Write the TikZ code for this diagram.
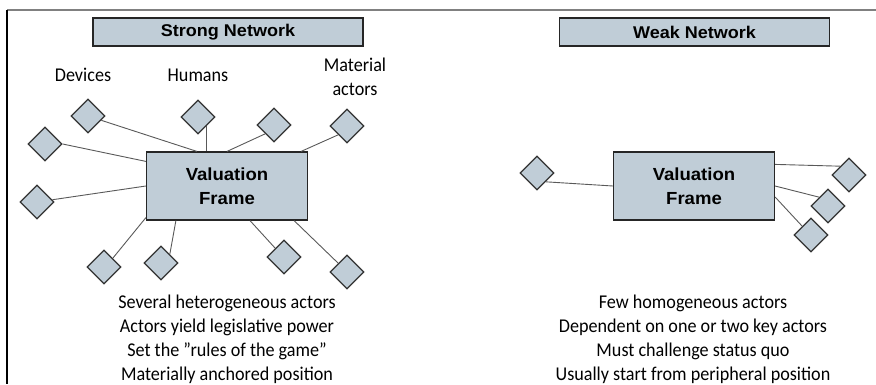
\documentclass[tikz,border=0pt]{standalone}
\usepackage{fontspec}
\setmainfont{Carlito}[FakeStretch=0.93]
\newfontfamily\headfont{Liberation Sans}[FakeStretch=1.06]
\usepackage{tikz}
\usetikzlibrary{shapes.geometric}
\usetikzlibrary{positioning}
\definecolor{boxfill}{RGB}{192,205,215}
\definecolor{edgegray}{RGB}{89,89,89}

\begin{document}
\begin{tikzpicture}[x=1pt, y=-1pt,
    titlebox/.style={draw=black!85, line width=1.2pt, fill=boxfill, minimum width=270pt, minimum height=28pt, inner sep=0pt, font=\headfont\bfseries\fontsize{17}{20}\selectfont},
    framebox/.style={draw=black!85, line width=1.2pt, fill=boxfill, minimum width=161pt, minimum height=68pt, align=center, inner sep=0pt, font=\headfont\bfseries\fontsize{17.5}{24}\selectfont},
    actor/.style={diamond, draw=black!80, line width=1.3pt, fill=boxfill, minimum width=34pt, minimum height=34pt, inner sep=0pt},
    link/.style={draw=edgegray, line width=0.9pt},
    lbl/.style={align=center, font=\fontsize{19.5}{24.3}\selectfont},
    notes/.style={align=center, font=\fontsize{19.5}{24}\selectfont}]
    \useasboundingbox (0,0) rectangle (876,384);
    \draw[black!50, line width=1.5pt] (7,10) -- (876,10);
    \draw[black, line width=1.5pt] (7,10) -- (7,384);

    % strong network
    \node[titlebox] (strong) at (228,32) {Strong Network};
    \node[framebox] (vf) at (227,186) {Valuation\\Frame};
    \foreach \n/\x/\y in {d1/88/116, d2/45/144, d3/37/202, d4/198/117, d5/274/125,
                          d6/347/126, d7/104/267, d8/161/263, d9/284/257, d10/347/272}
      {
        \node[actor] (\n) at (\x,\y) {};
      }
    \draw[link] (d1) -- ([xshift=51]vf.north west);
    \draw[link] (d2.east) -- ([yshift=-10]vf.north west);
    \draw[link] (d3) -- (vf.west);
    \draw[link] (d4.-45) -- (d4.-45 |- vf.north);
    \draw[link] (d5.225) -- (vf.north);
    \draw[link] (d6.225) -- ([xshift=-7]vf.north east);
    \draw[link] (d7.45) -- ([yshift=3]vf.south west);
    \draw[link] (d8.45) -- ([xshift=30]vf.south west);
    \draw[link] (d9.135) -- ([xshift=23]vf.south);
    \draw[link] (d10.135) -- ([xshift=-14]vf.south east);

    \node[lbl] (devices) at (83,75) {Devices};
    \node[lbl] (humans) at (198,75) {Humans};
    \node[lbl] (material) at (355,77) {Material\\actors};
    \node[notes] (strongtext) at (227,339.5) {Several heterogeneous actors\\Actors yield legislative power\\Set the ”rules of the game”\\Materially anchored position};

    % weak network
    \node[titlebox] (weak) at (694.5,32) {Weak Network};
    \node[framebox] (vfw) at (694,186) {Valuation\\Frame};
    \foreach \n/\x/\y in {w1/537/173, w2/849/175, w3/828/206, w4/811/235}
      {
        \node[actor] (\n) at (\x,\y) {};
      }
    \draw[link] (w1.-45) -- (vfw.west);
    \draw[link] (w2.135) -- ([yshift=-13]vfw.north east);
    \draw[link] (w3.135) -- (vfw.east);
    \draw[link] (w4.135) -- ([yshift=-11]vfw.east);

    \node[notes] (weaktext) at (693,339.5) {Few homogeneous actors\\Dependent on one or two key actors\\Must challenge status quo\\Usually start from peripheral position};
  \end{tikzpicture}
\end{document}
